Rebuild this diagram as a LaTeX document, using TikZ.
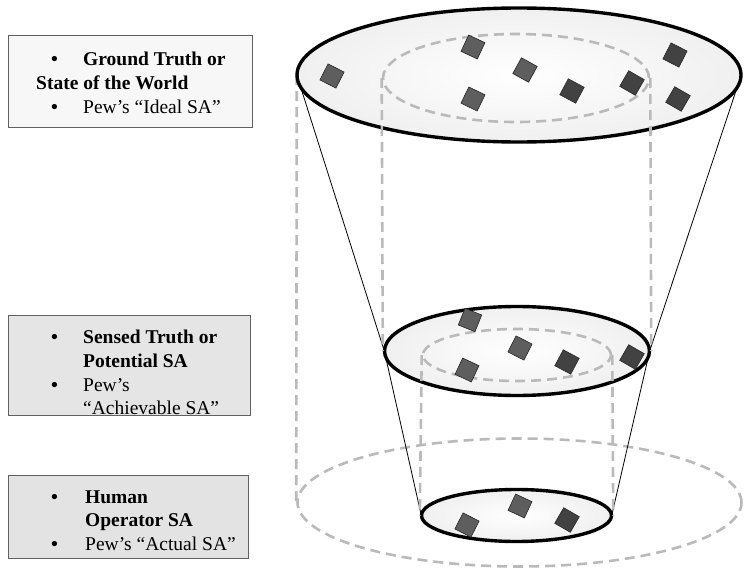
\documentclass[tikz,border=0pt]{standalone}
\usepackage{fontspec}
\setmainfont{Liberation Serif}
\usetikzlibrary{shapes.geometric}
\begin{document}
\begin{tikzpicture}[x=1pt,y=-1pt,
  lbl/.style={anchor=base west, inner sep=0pt, font=\fontsize{19.5}{24}\selectfont},
  blbl/.style={anchor=base west, inner sep=0pt, font=\fontsize{19.5}{24}\selectfont\bfseries},
  boxa/.style={draw=black!62, line width=1.1pt, anchor=north west, inner sep=0pt},
  guide/.style={draw=black!27, line width=2.6pt, dash pattern=on 10pt off 6pt},
  guideell/.style={ellipse, guide, inner sep=0pt},
  cone/.style={draw=black, line width=0.8pt},
  disc/.style={ellipse, draw=black, line width=3.4pt, inner sep=0pt, shade, inner color=white, outer color=black!6},
  anch/.style={ellipse, inner sep=0pt},
  sq/.style={draw=black!85, line width=0.6pt, minimum size=18pt, inner sep=0pt, fill=black!63},
  sqd/.style={sq, fill=black!74}]
\useasboundingbox (0,0) rectangle (745,570);

% ---- left boxes ----
\node[boxa, fill=black!3, minimum width=244pt, minimum height=92pt] (b1) at (8,35) {};
\node[boxa, fill=black!10, minimum width=242pt, minimum height=100pt] (b2) at (8,315) {};
\node[boxa, fill=black!11, minimum width=240pt, minimum height=83pt] (b3) at (8,475) {};

\node[blbl] (b1d1) at (51,65) {\textbullet};
\node[blbl] (b1t1) at (83,65) {Ground Truth or};
\node[blbl] (b1t2) at (36,89) {State of the World};
\node[blbl] (b1d2) at (51,113) {\textbullet};
\node[lbl] (b1t3) at (83,113) {Pew’s “Ideal SA”};

\node[blbl] (b2d1) at (51,343) {\textbullet};
\node[blbl] (b2t1) at (83,343) {Sensed Truth or};
\node[blbl] (b2t2) at (83,367) {Potential SA};
\node[blbl] (b2d2) at (51,391) {\textbullet};
\node[lbl] (b2t3) at (83,391) {Pew’s};
\node[lbl] (b2t4) at (83,414) {“Achievable SA”};

\node[blbl] (b3d1) at (51,503) {\textbullet};
\node[blbl] (b3t1) at (85,503) {Human};
\node[blbl] (b3t2) at (85,526) {Operator SA};
\node[blbl] (b3d2) at (51,550) {\textbullet};
\node[lbl] (b3t3) at (85,550) {Pew’s “Actual SA”};

% ---- floor projection ----
\node[guideell, minimum width=444pt, minimum height=128pt] (floor) at (519.5,502.5) {};

% ---- anchors of the three levels ----
\node[anch, minimum width=444pt, minimum height=134pt] (top) at (519,75) {};
\node[anch, minimum width=265pt, minimum height=89pt] (mid) at (517,351) {};
\node[anch, minimum width=190pt, minimum height=52pt] (bot) at (516.5,515.5) {};

% ---- cone outline and outer guide ----
\draw[guide] (top.west) -- (floor.west);
\draw[cone] (top.west) -- (mid.west) -- (bot.west);
\draw[cone] (top.east) -- (mid.east) -- (bot.east);

% ---- discs ----
\node[disc, minimum width=444pt, minimum height=134pt] (topd) at (519,75) {};
\node[disc, minimum width=265pt, minimum height=89pt] (midd) at (517,351) {};
\node[disc, minimum width=190pt, minimum height=52pt] (botd) at (516.5,515.5) {};

% ---- inner projections ----
\node[guideell, minimum width=266pt, minimum height=88pt] (topIn) at (516,78) {};
\node[guideell, minimum width=188pt, minimum height=52pt] (midIn) at (517,355) {};

\draw[guide] (topIn.west) -- (midd.west);
\draw[guide] (topIn.east) -- (midd.east);
\draw[guide] (midIn.west) -- (botd.west);
\draw[guide] (midIn.east) -- (botd.east);

% ---- items ----
\node[sq, rotate=-27] (t1) at (332,76) {};
\node[sq, rotate=-25] (t2) at (473,47) {};
\node[sq, rotate=-29] (t3) at (525,70) {};
\node[sq, rotate=-26] (t4) at (473,99) {};
\node[sqd, rotate=-28] (t5) at (572,91) {};
\node[sqd, rotate=-30] (t6) at (632,83) {};
\node[sqd, rotate=-27] (t7) at (675,55) {};
\node[sqd, rotate=-30] (t8) at (678,99) {};

\node[sq, rotate=-22] (m1) at (470,320) {};
\node[sq, rotate=-27] (m2) at (520,348) {};
\node[sqd, rotate=-28] (m3) at (567,362) {};
\node[sq, rotate=-25] (m4) at (467,370) {};
\node[sqd, rotate=-30] (m5) at (632,357) {};

\node[sq, rotate=-25] (u1) at (520,506) {};
\node[sqd, rotate=-30] (u2) at (567,520) {};
\node[sq, rotate=-27] (u3) at (467,525) {};
\end{tikzpicture}
\end{document}
